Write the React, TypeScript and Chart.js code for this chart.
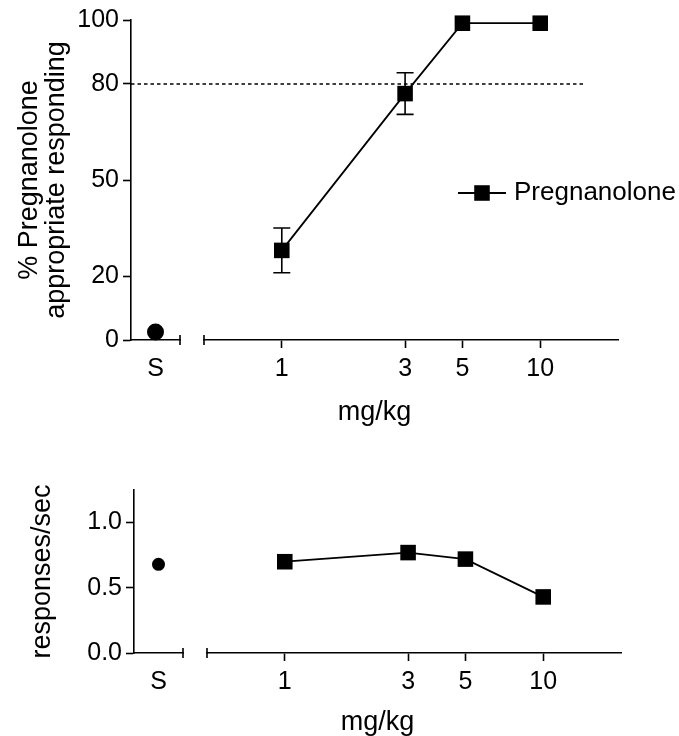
import React, { useEffect, useRef } from 'react';
import { Chart, registerables } from 'chart.js';

Chart.register(...registerables);

const FONT = '"Liberation Sans", Arial, Helvetica, sans-serif';

// ---- data ----
const salineLabels = ['S'];
const doses = [1, 3, 5, 10];
const doseTickLabels = ['1', '3', '5', '10'];
const pctTicks = [0, 20, 50, 80, 100];
const pctTickLabels = ['0', '20', '50', '80', '100'];
const rateTicks = [0, 0.5, 1.0];
const rateTickLabels = ['0.0', '0.5', '1.0'];

const pctSaline = [2.5];
const pctPregnanolone = [28, 77, 99, 99];
const pctPregnanoloneSem = [7, 6.5, 0, 0];
const rateSaline = [0.68];
const ratePregnanolone = [0.7, 0.77, 0.72, 0.43];

const criterionPct = 80;
const criterionEndDose = 15;
const doseMin = 0.5;
const doseMax = 20;

const LW = 1.6;

function brokenAxisPlugin(sWidth: number, gap: number, capHalf: number) {
  return {
    id: 'brokenAxis',
    afterLayout(chart: any) {
      const a = chart.chartArea;
      const xS = chart.scales.xS;
      const xD = chart.scales.xD;
      xS.left = a.left;
      xS.right = a.left + sWidth;
      xS.width = sWidth;
      xD.left = a.left + sWidth + gap;
      xD.right = a.right;
      xD.width = xD.right - xD.left;
      xS.configure();
      xD.configure();
    },
    afterDraw(chart: any) {
      const ctx = chart.ctx;
      const xS = chart.scales.xS;
      const xD = chart.scales.xD;
      const y = xS.top;
      ctx.save();
      ctx.strokeStyle = '#000';
      ctx.lineWidth = LW;
      ctx.beginPath();
      ctx.moveTo(xS.right, y - capHalf);
      ctx.lineTo(xS.right, y + capHalf);
      ctx.moveTo(xD.left, y - capHalf);
      ctx.lineTo(xD.left, y + capHalf);
      ctx.stroke();
      ctx.restore();
    },
  };
}

function errorBarPlugin(datasetIndex: number, xs: number[], ys: number[], errs: number[], capHalf: number) {
  return {
    id: 'errorBars',
    beforeDatasetsDraw(chart: any) {
      const meta = chart.getDatasetMeta(datasetIndex);
      const xScale = chart.scales[meta.xAxisID];
      const yScale = chart.scales[meta.yAxisID];
      const ctx = chart.ctx;
      ctx.save();
      ctx.strokeStyle = '#000';
      ctx.lineWidth = LW;
      ctx.beginPath();
      for (let i = 0; i < xs.length; i++) {
        if (!errs[i]) continue;
        const x = xScale.getPixelForValue(xs[i]);
        const yt = yScale.getPixelForValue(ys[i] + errs[i]);
        const yb = yScale.getPixelForValue(ys[i] - errs[i]);
        ctx.moveTo(x, yt);
        ctx.lineTo(x, yb);
        ctx.moveTo(x - capHalf, yt);
        ctx.lineTo(x + capHalf, yt);
        ctx.moveTo(x - capHalf, yb);
        ctx.lineTo(x + capHalf, yb);
      }
      ctx.stroke();
      ctx.restore();
    },
  };
}

function criterionPlugin(value: number, endDose: number) {
  return {
    id: 'criterion',
    beforeDatasetsDraw(chart: any) {
      const a = chart.chartArea;
      const ctx = chart.ctx;
      const y = chart.scales.y.getPixelForValue(value);
      const xEnd = chart.scales.xD.getPixelForValue(endDose);
      ctx.save();
      ctx.strokeStyle = '#000';
      ctx.lineWidth = 1.4;
      ctx.setLineDash([3.5, 3]);
      ctx.beginPath();
      ctx.moveTo(a.left, y);
      ctx.lineTo(xEnd, y);
      ctx.stroke();
      ctx.restore();
    },
  };
}

function legendPlugin(datasetIndex: number, dx: number, dy: number, lineLen: number, textGap: number, fontSize: number) {
  return {
    id: 'lineLegend',
    afterDraw(chart: any) {
      const ds = chart.data.datasets[datasetIndex];
      const a = chart.chartArea;
      const ctx = chart.ctx;
      const x0 = a.left + dx;
      const y0 = a.top + dy;
      ctx.save();
      ctx.strokeStyle = '#000';
      ctx.lineWidth = ds.borderWidth;
      ctx.beginPath();
      ctx.moveTo(x0, y0);
      ctx.lineTo(x0 + lineLen, y0);
      ctx.stroke();
      const half = ds.pointRadius * Math.SQRT1_2;
      ctx.fillStyle = '#000';
      ctx.fillRect(x0 + lineLen / 2 - half, y0 - half, 2 * half, 2 * half);
      ctx.font = `${fontSize}px ${FONT}`;
      ctx.textBaseline = 'middle';
      ctx.textAlign = 'left';
      ctx.fillText(ds.label, x0 + lineLen + textGap, y0);
      ctx.restore();
    },
  };
}

function makeScales(o: {
  yMax: number;
  yTicks: number[];
  yLabels: string[];
  yWidth: number;
  yTitle: string | string[];
  yTitlePad: number;
}) {
  const tickFont = { family: FONT, size: 25 };
  const xCommon = {
    position: 'bottom',
    stack: 'dose',
    afterFit: (s: any) => {
      s.height = 50;
    },
    border: { display: true, color: '#000', width: LW },
    ticks: { color: '#000', padding: 6, font: tickFont, autoSkip: false, maxRotation: 0, minRotation: 0 },
  };
  return {
    y: {
      type: 'linear',
      position: 'left',
      min: 0,
      max: o.yMax,
      afterBuildTicks: (s: any) => {
        s.ticks = o.yTicks.map((v) => ({ value: v }));
      },
      afterFit: (s: any) => {
        s.width = o.yWidth;
      },
      grid: { display: true, drawOnChartArea: false, drawTicks: true, tickLength: 8, tickColor: '#000', tickWidth: LW },
      border: { display: true, color: '#000', width: LW },
      ticks: {
        color: '#000',
        padding: 4,
        font: tickFont,
        autoSkip: false,
        callback: (_v: any, i: number) => o.yLabels[i],
      },
      title: {
        display: true,
        text: o.yTitle,
        color: '#000',
        font: { family: FONT, size: 27, lineHeight: 1 },
        padding: { top: o.yTitlePad, bottom: 0 },
      },
    },
    xS: {
      ...xCommon,
      type: 'category',
      labels: salineLabels,
      offset: true,
      stackWeight: 49,
      grid: { display: true, drawOnChartArea: false, drawTicks: true, tickLength: 8, tickColor: 'rgba(0,0,0,0)', offset: false },
    },
    xD: {
      ...xCommon,
      type: 'logarithmic',
      min: doseMin,
      max: doseMax,
      stackWeight: 438,
      afterBuildTicks: (s: any) => {
        s.ticks = doses.map((v) => ({ value: v }));
      },
      grid: { display: true, drawOnChartArea: false, drawTicks: true, tickLength: 8, tickColor: '#000', tickWidth: LW },
      ticks: { ...xCommon.ticks, callback: (_v: any, i: number) => doseTickLabels[i] },
    },
  };
}

function titleOpts(padTop: number) {
  return {
    display: true,
    text: 'mg/kg',
    position: 'bottom',
    fullSize: false,
    color: '#000',
    font: { family: FONT, size: 27, weight: 'normal', lineHeight: 1 },
    padding: { top: padTop, bottom: 0 },
  };
}

function topConfig(): any {
  return {
    type: 'line',
    data: {
      datasets: [
        {
          label: 'Saline',
          xAxisID: 'xS',
          yAxisID: 'y',
          data: salineLabels.map((s, i) => ({ x: s, y: pctSaline[i] })),
          showLine: false,
          pointStyle: 'circle',
          pointRadius: 8.5,
          pointBackgroundColor: '#000',
          pointBorderWidth: 0,
          borderColor: '#000',
          clip: false,
        },
        {
          label: 'Pregnanolone',
          xAxisID: 'xD',
          yAxisID: 'y',
          data: doses.map((d, i) => ({ x: d, y: pctPregnanolone[i] })),
          borderColor: '#000',
          borderWidth: 1.8,
          tension: 0,
          fill: false,
          pointStyle: 'rect',
          pointRadius: 11,
          pointBackgroundColor: '#000',
          pointBorderWidth: 0,
          clip: false,
        },
      ],
    },
    options: {
      responsive: false,
      animation: false,
      events: [],
      layout: { padding: { left: 0, right: 61, top: 20, bottom: 14 } },
      plugins: {
        legend: { display: false },
        tooltip: { enabled: false },
        title: titleOpts(9),
      },
      scales: makeScales({
        yMax: 100,
        yTicks: pctTicks,
        yLabels: pctTickLabels,
        yWidth: 131,
        yTitle: ['% Pregnanolone', 'appropriate responding'],
        yTitlePad: 16.5,
      }),
    },
    plugins: [
      brokenAxisPlugin(49, 24, 5),
      criterionPlugin(criterionPct, criterionEndDose),
      errorBarPlugin(1, doses, pctPregnanolone, pctPregnanoloneSem, 8.5),
      legendPlugin(1, 327, 173, 48, 8, 26),
    ],
  };
}

function bottomConfig(): any {
  return {
    type: 'line',
    data: {
      datasets: [
        {
          label: 'Saline',
          xAxisID: 'xS',
          yAxisID: 'y',
          data: salineLabels.map((s, i) => ({ x: s, y: rateSaline[i] })),
          showLine: false,
          pointStyle: 'circle',
          pointRadius: 6.5,
          pointBackgroundColor: '#000',
          pointBorderWidth: 0,
          borderColor: '#000',
          clip: false,
        },
        {
          label: 'Pregnanolone',
          xAxisID: 'xD',
          yAxisID: 'y',
          data: doses.map((d, i) => ({ x: d, y: ratePregnanolone[i] })),
          borderColor: '#000',
          borderWidth: 1.8,
          tension: 0,
          fill: false,
          pointStyle: 'rect',
          pointRadius: 11,
          pointBackgroundColor: '#000',
          pointBorderWidth: 0,
          clip: false,
        },
      ],
    },
    options: {
      responsive: false,
      animation: false,
      events: [],
      layout: { padding: { left: 0, right: 58, top: 50, bottom: 0 } },
      plugins: {
        legend: { display: false },
        tooltip: { enabled: false },
        title: titleOpts(6),
      },
      scales: makeScales({
        yMax: 1.25,
        yTicks: rateTicks,
        yLabels: rateTickLabels,
        yWidth: 134,
        yTitle: 'responses/sec',
        yTitlePad: 29.5,
      }),
    },
    plugins: [brokenAxisPlugin(49, 24, 5)],
  };
}

export default function App() {
  const topRef = useRef<HTMLCanvasElement>(null);
  const botRef = useRef<HTMLCanvasElement>(null);

  useEffect(() => {
    const top = new Chart(topRef.current as HTMLCanvasElement, topConfig());
    const bot = new Chart(botRef.current as HTMLCanvasElement, bottomConfig());
    return () => {
      top.destroy();
      bot.destroy();
    };
  }, []);

  return (
    <div style={{ position: 'absolute', left: 0, top: 0, width: 679, height: 736, background: '#fff' }}>
      <canvas ref={topRef} width={679} height={440} style={{ position: 'absolute', left: 0, top: 0 }} />
      <canvas ref={botRef} width={679} height={296} style={{ position: 'absolute', left: 0, top: 440 }} />
    </div>
  );
}
